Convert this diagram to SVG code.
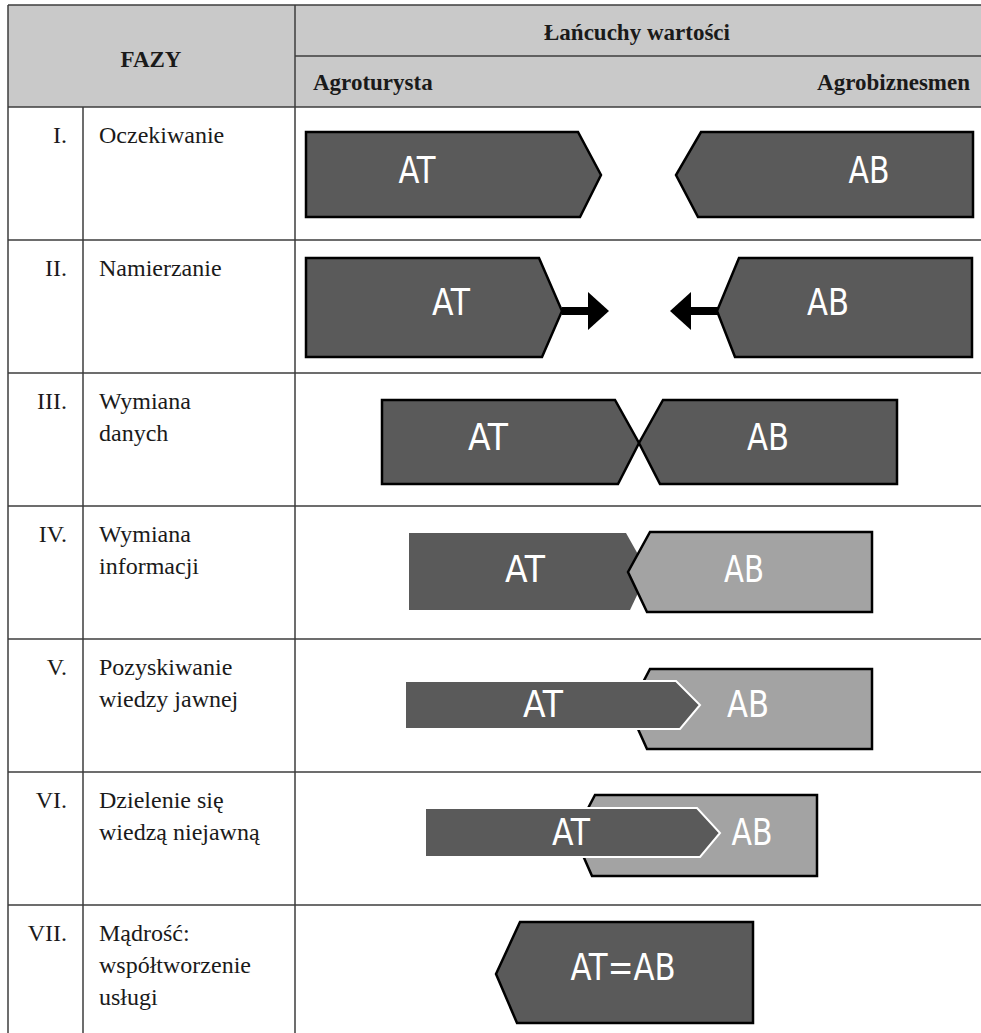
<svg xmlns="http://www.w3.org/2000/svg" width="981" height="1033" viewBox="0 0 981 1033">
<style>
.grid{stroke:#3c3c3c;stroke-width:1.5;fill:none}
.hdr{font-family:"Liberation Serif",serif;font-weight:bold;font-size:23px;fill:#1a1a1a}
.lbl{font-family:"Liberation Serif",serif;font-size:24px;fill:#1a1a1a}
.dark{fill:#5a5a5a;stroke:#000;stroke-width:2.5;stroke-linejoin:miter}
.darkw{fill:#5a5a5a;stroke:#fff;stroke-width:2}
.darkn{fill:#5a5a5a;stroke:none}
.light{fill:#a3a3a3;stroke:#000;stroke-width:2.5}
.bt{font-family:"DejaVu Sans Condensed","DejaVu Sans",sans-serif;font-size:38px;fill:#fff;text-anchor:middle}
</style>
<rect x="0" y="0" width="981" height="1033" fill="#fff"/>
<g id="table">
<rect x="8" y="5" width="973" height="102" fill="#c9c9c9"/>
<line class="grid" x1="8" y1="5" x2="981" y2="5"/>
<line class="grid" x1="295" y1="56" x2="981" y2="56"/>
<line class="grid" x1="8" y1="107" x2="981" y2="107"/>
<line class="grid" x1="8" y1="240" x2="981" y2="240"/>
<line class="grid" x1="8" y1="373" x2="981" y2="373"/>
<line class="grid" x1="8" y1="506" x2="981" y2="506"/>
<line class="grid" x1="8" y1="639" x2="981" y2="639"/>
<line class="grid" x1="8" y1="772" x2="981" y2="772"/>
<line class="grid" x1="8" y1="905" x2="981" y2="905"/>
<line class="grid" x1="8" y1="5" x2="8" y2="1033"/>
<line class="grid" x1="83" y1="107" x2="83" y2="1033"/>
<line class="grid" x1="295" y1="5" x2="295" y2="1033"/>
<text class="hdr" x="151" y="67" text-anchor="middle">FAZY</text>
<text class="hdr" x="637" y="40" text-anchor="middle">Łańcuchy wartości</text>
<text class="hdr" x="313" y="90">Agroturysta</text>
<text class="hdr" x="970" y="90" text-anchor="end">Agrobiznesmen</text>
<g class="lbl">
<text x="67" y="143" text-anchor="end">I.</text>
<text x="99" y="143">Oczekiwanie</text>
<text x="67" y="276" text-anchor="end">II.</text>
<text x="99" y="276">Namierzanie</text>
<text x="67" y="409" text-anchor="end">III.</text>
<text x="99" y="409">Wymiana</text>
<text x="99" y="441">danych</text>
<text x="67" y="542" text-anchor="end">IV.</text>
<text x="99" y="542">Wymiana</text>
<text x="99" y="574">informacji</text>
<text x="67" y="675" text-anchor="end">V.</text>
<text x="99" y="675">Pozyskiwanie</text>
<text x="99" y="707">wiedzy jawnej</text>
<text x="67" y="808" text-anchor="end">VI.</text>
<text x="99" y="808">Dzielenie się</text>
<text x="99" y="840">wiedzą niejawną</text>
<text x="67" y="941" text-anchor="end">VII.</text>
<text x="99" y="941">Mądrość:</text>
<text x="99" y="973">współtworzenie</text>
<text x="99" y="1005">usługi</text>
</g>
</g>
<g id="r1-at"><polygon class="dark" points="306,132 578,132 601,175 580,217 306,217"/><text class="bt" x="417" y="183" font-size="42" textLength="37" lengthAdjust="spacingAndGlyphs">AT</text></g>
<g id="r1-ab"><polygon class="dark" points="973,132 701,132 676,175 698,217 973,217"/><text class="bt" x="869" y="183" font-size="42" textLength="41" lengthAdjust="spacingAndGlyphs">AB</text></g>
<g id="r2-at"><polygon class="dark" points="306,258 539,258 562,311 542,357 306,357"/><text class="bt" x="451" y="315" textLength="38" lengthAdjust="spacingAndGlyphs">AT</text></g>
<g id="r2-ab"><polygon class="dark" points="972,258 739,258 717,311 735,357 972,357"/><text class="bt" x="828" y="315" textLength="42" lengthAdjust="spacingAndGlyphs">AB</text></g>
<g id="r3-at"><polygon class="dark" points="382,400 615,400 639,443 618,484 382,484"/><text class="bt" x="488" y="450" textLength="40" lengthAdjust="spacingAndGlyphs">AT</text></g>
<g id="r3-ab"><polygon class="dark" points="897,400 663,400 639,443 660,484 897,484"/><text class="bt" x="768" y="450" textLength="42" lengthAdjust="spacingAndGlyphs">AB</text></g>
<g id="r4-at"><polygon class="darkn" points="409,533 626,533 648,572 630,610 409,610"/><text class="bt" x="525" y="582" textLength="40" lengthAdjust="spacingAndGlyphs">AT</text></g>
<g id="r4-ab"><polygon class="light" points="872,532 650,532 628,572 647,612 872,612"/><text class="bt" x="744" y="582" textLength="40" lengthAdjust="spacingAndGlyphs">AB</text></g>
<g id="r5-ab"><polygon class="light" points="872,669 650,669 629,709 647,749 872,749"/><text class="bt" x="748" y="717" textLength="42" lengthAdjust="spacingAndGlyphs">AB</text></g>
<g id="r5-at"><polygon class="darkw" points="405,681 676,681 700,705 680,729 405,729"/><text class="bt" x="543" y="717" textLength="40" lengthAdjust="spacingAndGlyphs">AT</text></g>
<g id="r6-ab"><polygon class="light" points="817,795 595,795 574,835 592,876 817,876"/><text class="bt" x="752" y="845" textLength="41" lengthAdjust="spacingAndGlyphs">AB</text></g>
<g id="r6-at"><polygon class="darkw" points="425,808 697,808 720,833 700,857 425,857"/><text class="bt" x="571" y="845" textLength="38" lengthAdjust="spacingAndGlyphs">AT</text></g>
<g id="r7-atab"><polygon class="dark" points="753,922 520,922 496,974 517,1023 753,1023"/><text class="bt" x="623" y="980" textLength="105" lengthAdjust="spacingAndGlyphs">AT=AB</text></g>
<g id="connectors">
<rect x="562" y="307" width="27" height="8" fill="#000"/>
<polygon points="588,292 609,311 588,330" fill="#000"/>
<rect x="690" y="307" width="28" height="8" fill="#000"/>
<polygon points="670,311 691,292 691,330" fill="#000"/>
</g>
</svg>
